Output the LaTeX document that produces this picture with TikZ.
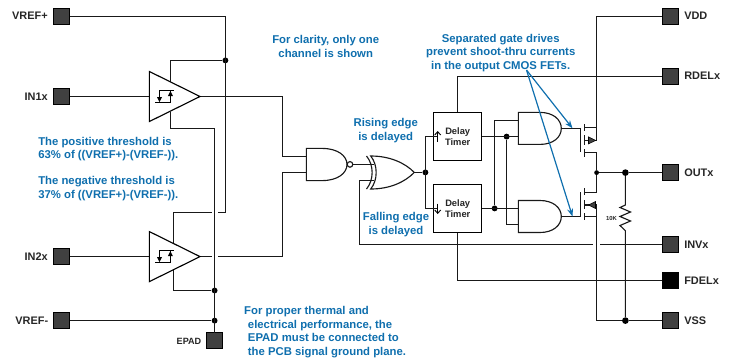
\documentclass[tikz,border=0pt]{standalone}
\usepackage{fontspec}
\setmainfont{Liberation Sans}
\usetikzlibrary{arrows.meta}
\definecolor{padgray}{HTML}{404040}
\definecolor{noteblue}{HTML}{0F6FAE}
\tikzset{
 x=0.75pt,y=-0.75pt,
 wire/.style={draw=black!90,line width=0.85pt,line join=miter},
 pad/.style={draw=black,fill=padgray,line width=0.8pt,minimum size=12.2pt,inner sep=0,outer sep=0},
 padblack/.style={pad,fill=black},
 pinlabel/.style={font=\bfseries\fontsize{8.2}{9.5}\selectfont,text=black!85,inner sep=0},
 note/.style={font=\bfseries\fontsize{8.5}{10.2}\selectfont,text=noteblue,align=center,inner sep=0},
 noteL/.style={note,align=left,anchor=west},
 timerbox/.style={draw=black,line width=0.85pt,fill=white,minimum width=36.3pt,minimum height=36pt,inner sep=0,outer sep=0},
 timertext/.style={font=\bfseries\fontsize{7}{7.9}\selectfont,text=black!85,align=center,inner sep=0},
 dot/.style={circle,fill=black,inner sep=0,minimum size=#1},
 dot/.default=4.4pt,
 bluearrow/.style={draw=noteblue,line width=0.9pt,-{Stealth[length=6pt,width=4.5pt]}},
 gatepart/.style={draw=black,line width=0.85pt,fill=white}
}
\begin{document}
\begin{tikzpicture}
\useasboundingbox (0,0) rectangle (732,358);
% pads
\node[pad] (vrefp) at (61.5,16.4) {};
\node[pad] (inone) at (61.5,96.5) {};
\node[pad] (intwo) at (61.5,256.6) {};
\node[pad] (vrefm) at (61.5,320.6) {};
\node[pad] (epad) at (214.6,340.7) {};
\node[pad] (vdd) at (670.3,16.4) {};
\node[pad] (rdel) at (670.3,76.4) {};
\node[pad] (outx) at (670.3,172.6) {};
\node[pad] (invx) at (670.3,244.6) {};
\node[padblack] (fdel) at (670.3,280.4) {};
\node[pad] (vss) at (670.3,320.6) {};
% pin labels
\node[pinlabel,anchor=east] at (48,16) {VREF+};
\node[pinlabel,anchor=east] at (48,96.5) {IN1x};
\node[pinlabel,anchor=east] at (48,256.7) {IN2x};
\node[pinlabel,anchor=east] at (48.5,320.7) {VREF-};
\node[pinlabel,anchor=east,font=\bfseries\fontsize{6.8}{8}\selectfont] at (201.5,341) {EPAD};
\node[pinlabel,anchor=west] at (684,16) {VDD};
\node[pinlabel,anchor=west] at (684,76) {RDELx};
\node[pinlabel,anchor=west] at (684,172.6) {OUTx};
\node[pinlabel,anchor=west] at (684,244.7) {INVx};
\node[pinlabel,anchor=west] at (684,280.3) {FDELx};
\node[pinlabel,anchor=west] at (684,320.7) {VSS};
% junctions
\node[dot] (jtop) at (225.4,60.4) {};
\node[dot] (jlow) at (214.6,290.5) {};
\node[dot] (jvm) at (214.6,320.6) {};
\node[dot] (jx) at (425.4,172.4) {};
\node[dot] (jb) at (506.6,136.6) {};
\node[dot] (ja) at (494.6,208.4) {};
\node[dot,minimum size=3.6pt] (jo) at (596.6,172.6) {};
\node[dot,minimum size=5pt] (jr) at (625.4,172.6) {};
\node[dot,minimum size=5pt] (jv) at (625.4,320.6) {};
% coordinates
\coordinate (aonet) at (170.4,81.8);
\coordinate (aoneb) at (170.4,111.5);
\coordinate (atwot) at (173.6,244);
\coordinate (atwob) at (173.6,270);
\coordinate (aoneo) at (200,96.5);
\coordinate (atwoo) at (200,256.6);
\coordinate (nin) at (306.4,156.6);
\coordinate (nim) at (306.4,172.6);
\coordinate (sdr) at (596.6,127.4);
% wires
\draw[wire] (vrefp) -- (225.4,16.4) -- (225.4,212.6) -- (218,212.6);
\draw[wire] (211.5,212.6) -- (173.6,212.6) -- (atwot);
\draw[wire] (jtop) -- (170.4,60.4) -- (aonet);
\draw[wire] (aoneb) -- (170.4,128.4) -- (214.6,128.4) -- (epad.north);
\draw[wire] (atwob) -- (173.6,290.5) -- (jlow);
\draw[wire] (vrefm) -- (jvm);
\draw[wire] (inone) -- (149.4,96.5);
\draw[wire] (intwo) -- (149.4,256.6);
\draw[wire] (aoneo) -- (282.4,96.5) -- (282.4,156.6) -- (nin);
\draw[wire] (atwoo) -- (211.5,256.6);
\draw[wire] (218,256.6) -- (282.4,256.6) -- (282.4,172.6) -- (nim);
% comparators
\foreach \yy in {96.5,256.6}{
 \draw[gatepart] (149.4,\yy-25) -- (149.4,\yy+25) -- (200,\yy) -- cycle;
 \draw[black,line width=0.7pt] (159.5,\yy+1) -- (159.5,\yy-6) -- (174,\yy-6);
 \draw[black,line width=0.7pt] (155.3,\yy+6) -- (170.4,\yy+6) -- (170.4,\yy-6);
 \fill[black] (157,\yy+0.5) -- (162,\yy+0.5) -- (159.5,\yy+5.5) -- cycle;
 \fill[black] (167.9,\yy-0.5) -- (172.9,\yy-0.5) -- (170.4,\yy-5.5) -- cycle;
}
% NAND
\draw[wire,fill=white] (306.4,148.4) -- (322,148.4) .. controls (338,148.4) and (347,156) .. (347,164.4) .. controls (347,173) and (338,180.6) .. (322,180.6) -- (306.4,180.6) -- cycle;
\draw[wire,fill=white] (350,164.4) circle[radius=2.8];
% XOR
\draw[wire] (352.8,164.6) -- (374,164.6);
\draw[wire] (374,180.6) -- (359.4,180.6) -- (359.4,244.6) -- (593,244.6);
\draw[wire] (600,244.6) -- (invx);
\draw[wire,fill=white] (370.7,156) .. controls (378,165) and (378,180) .. (370.7,189) .. controls (390,189) and (405,182) .. (414.3,172.4) .. controls (405,163) and (390,156) .. (370.7,156) -- cycle;
\draw[wire] (366.5,156) .. controls (374,165) and (374,180) .. (366.5,189);
% Delay
\draw[wire] (414.3,172.4) -- (jx);
\draw[wire] (rdel) -- (457.6,76.4) -- (457.6,112.5);
\draw[wire] (fdel) -- (457.6,280.4) -- (457.6,232.6);
\node[timerbox] (dtup) at (457.6,136.4) {};
\node[timerbox] (dtdn) at (457.6,208.6) {};
\draw[wire] (437.7,136.6) -- (425.4,136.6) -- (425.4,208.4) -- (437.7,208.4);
\node[timertext] at (457.7,136.7) {Delay\\Timer};
\node[timertext] at (457.7,208.5) {Delay\\Timer};
\draw[black,line width=0.7pt,-{Straight Barb[length=2.5pt,width=4.5pt]}] (437.7,141.5) -- (437.7,131);
\draw[black,line width=0.7pt,-{Straight Barb[length=2.5pt,width=4.5pt]}] (437.7,203.5) -- (437.7,214);
% AND gates inputs
\draw[wire] (482,136.6) -- (518.4,136.6);
\draw[wire] (482,208.4) -- (518.4,208.4);
\draw[wire] (518.4,120.6) -- (494.6,120.6) -- (ja);
\draw[wire] (jb) -- (506.6,224.4) -- (518.4,224.4);
% AND
\foreach \yy in {128.4,216.5}{
 \draw[wire,fill=white] (518.4,\yy-16) -- (540,\yy-16) .. controls (553,\yy-16) and (561.3,\yy-9) .. (561.3,\yy) .. controls (561.3,\yy+9) and (553,\yy+16) .. (540,\yy+16) -- (518.4,\yy+16) -- cycle;
}
\draw[wire] (561.3,128.4) -- (580.4,128.4);
\draw[wire] (561.3,216.6) -- (580.4,216.6);
% FETs
\draw[wire] (580.4,128.4) -- (580.4,152.3);
\draw[wire] (584.4,124) -- (584.4,130.6) (584.4,135) -- (584.4,145) (584.4,149.3) -- (584.4,156.7);
\draw[wire] (584.4,127.4) -- (sdr) (584.4,140.4) -- (596.6,140.4) (584.4,152.6) -- (596.6,152.6);
\fill[padgray,draw=black,line width=0.4pt] (588.5,136.9) -- (588.5,143.9) -- (595.7,140.4) -- cycle;
\draw[wire] (580.4,192.4) -- (580.4,216.6);
\draw[wire] (584.4,188.3) -- (584.4,195) (584.4,200) -- (584.4,209) (584.4,213.3) -- (584.4,220);
\draw[wire] (584.4,192.4) -- (596.6,192.4) (584.4,205) -- (596.6,205) (584.4,216.6) -- (596.6,216.6);
\fill[padgray,draw=black,line width=0.4pt] (595.5,201.5) -- (595.5,208.5) -- (588.5,205) -- cycle;
\draw[wire] (vdd) -- (596.6,16.4) -- (596.6,140.4);
\draw[wire] (596.6,152.6) -- (jo);
\draw[wire] (jo) -- (596.6,192.4);
\draw[wire] (596.6,205) -- (596.6,320.6) -- (jv);
\draw[wire] (jv) -- (vss);
\draw[wire] (jo) -- (jr);
\draw[wire] (jr) -- (outx);
% resistor
\draw[wire,line join=miter] (jr) -- (625.4,205) -- (620,207.5) -- (630.5,212) -- (620,216.5) -- (630.5,221) -- (620,225.5) -- (625.4,230.7) -- (jv);
\node[font=\bfseries\fontsize{4.4}{5}\selectfont,text=black!85,inner sep=0] at (611.5,218.5) {10K};
% blue notes
\node[note] at (325.7,46.2) {For clarity, only one\\channel is shown};
\node[noteL] at (38,149) {The positive threshold is\\63\% of ((VREF+)-(VREF-)).};
\node[noteL] at (38,188.7) {The negative threshold is\\37\% of ((VREF+)-(VREF-)).};
\node[note] at (385.7,130.7) {Rising edge\\is delayed};
\node[note] at (396,224.7) {Falling edge\\is delayed};
\node[note] at (500.7,53) {Separated gate drives\\prevent shoot-thru currents\\in the output CMOS FETs.};
\node[noteL] at (247.7,332.2) {\hspace*{-2.8pt}For proper thermal and\\electrical performance, the\\EPAD must be connected to\\the PCB signal ground plane.};
\coordinate (arrowsrc) at (526.5,70);
\draw[bluearrow] (arrowsrc) -- (572.5,128.3);
\draw[bluearrow] (arrowsrc) -- (572.5,216.5);
\end{tikzpicture}
\end{document}
